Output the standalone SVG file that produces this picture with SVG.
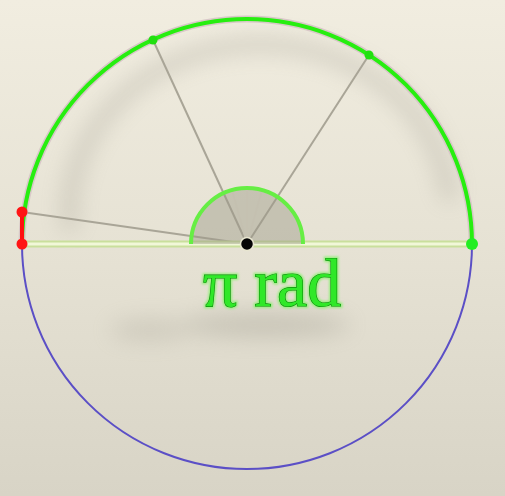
<svg xmlns="http://www.w3.org/2000/svg" width="505" height="496" viewBox="0 0 505 496">
<defs>
<linearGradient id="bg" x1="0" y1="0" x2="0" y2="1">
<stop offset="0" stop-color="#f1ede0"/>
<stop offset="0.5" stop-color="#e6e2d4"/>
<stop offset="1" stop-color="#d8d4c6"/>
</linearGradient>
<filter id="blur" x="-20%" y="-20%" width="140%" height="140%"><feGaussianBlur stdDeviation="11"/></filter>
<filter id="glow" x="-10%" y="-20%" width="120%" height="140%"><feGaussianBlur stdDeviation="1.2"/></filter>
<style>
.ray{stroke:#a9a597;stroke-width:2;fill:none}
.faint{stroke:#c4c0b0;stroke-width:1.5;fill:none}
.label{font-family:"Liberation Serif","DejaVu Serif",serif;font-size:68px}
</style>
</defs>
<rect width="505" height="496" fill="url(#bg)"/>
<g filter="url(#blur)" opacity="0.3">
<path d="M70,230 A190,170 0 0 1 450,200" fill="none" stroke="#8a877c" stroke-width="14"/>
<ellipse cx="265" cy="325" rx="85" ry="12" fill="#8a877c"/>
<ellipse cx="150" cy="330" rx="40" ry="10" fill="#a09c90"/>
</g>
<g id="connectors">
<line class="ray" x1="247" y1="244" x2="369" y2="55"/>
<line class="ray" x1="247" y1="244" x2="153" y2="40"/>
<line class="ray" x1="247" y1="244" x2="22" y2="212"/>
<path d="M22,244 A225,225 0 0 0 472,244" fill="none" stroke="#5b4fc6" stroke-width="2"/>
<path d="M22,244 A225,225 0 0 1 472,244" fill="none" stroke="#d9c8c8" stroke-width="7"/>
<path d="M22,244 A225,225 0 0 1 472,244" fill="none" stroke="#27ee10" stroke-width="4"/>
<line x1="22" y1="244" x2="472" y2="244" stroke="#c9df9c" stroke-width="7"/>
<line x1="22" y1="244" x2="472" y2="244" stroke="#f1f7d8" stroke-width="3"/>
<line x1="22" y1="212" x2="22" y2="244" stroke="#ff1010" stroke-width="4"/>
</g>
<g id="sector">
<path d="M191,244 A56,56 0 0 1 303,244 Z" fill="#9c9a88" fill-opacity="0.45" stroke="none"/>
<line class="faint" x1="247" y1="244" x2="247" y2="189"/>
<line class="faint" x1="247" y1="244" x2="232" y2="190"/>
<line class="faint" x1="247" y1="244" x2="262" y2="190"/>
<path d="M191,244 A56,56 0 0 1 303,244" fill="none" stroke="#66ee44" stroke-width="4"/>
</g>
<g id="points">
<circle cx="153" cy="40" r="4.5" fill="#22e010"/>
<circle cx="369" cy="55" r="4.5" fill="#22e010"/>
<circle cx="22" cy="212" r="5.5" fill="#ff1515"/>
<circle cx="22" cy="244" r="5.5" fill="#ff1515"/>
<circle cx="472" cy="244" r="6" fill="#22ee22"/>
<circle id="center" cx="247" cy="244" r="6.5" fill="#050505" stroke="#e8e6d0" stroke-width="1.5"/>
</g>
<g id="label">
<text class="label" x="203" y="306" fill="none" stroke="#9aee80" stroke-width="4" filter="url(#glow)">π rad</text>
<text class="label" x="203" y="306" fill="#30e828" stroke="#0a8a0a" stroke-width="1.2" paint-order="stroke">π rad</text>
</g>
</svg>
